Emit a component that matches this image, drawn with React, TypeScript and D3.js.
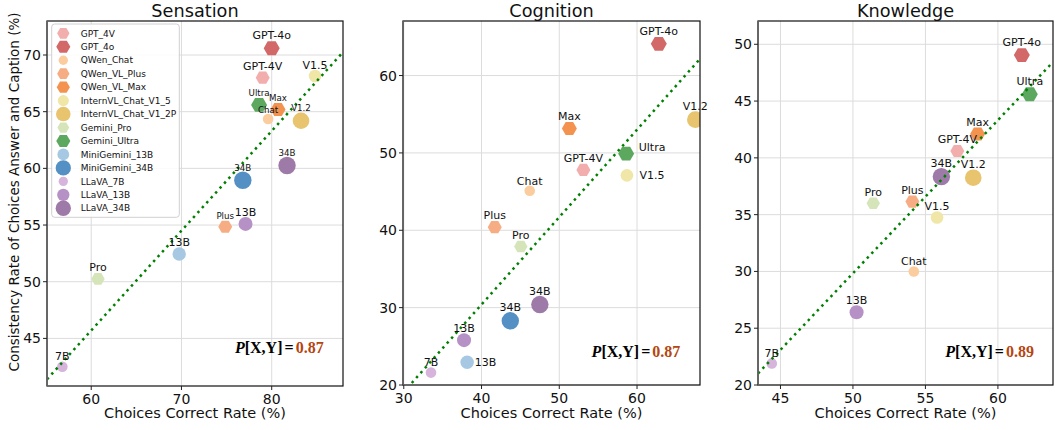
import * as d3 from "d3";

const models = [
  "GPT_4V",
  "GPT_4o",
  "QWen_Chat",
  "QWen_VL_Plus",
  "QWen_VL_Max",
  "InternVL_Chat_V1_5",
  "InternVL_Chat_V1_2P",
  "Gemini_Pro",
  "Gemini_Ultra",
  "MiniGemini_13B",
  "MiniGemini_34B",
  "LLaVA_7B",
  "LLaVA_13B",
  "LLaVA_34B",
];
const shortLabels = ["GPT-4V", "GPT-4o", "Chat", "Plus", "Max", "V1.5", "V1.2", "Pro", "Ultra", "13B", "34B", "7B", "13B", "34B"];

// x = choices correct rate, y = consistency rate (null = not evaluated)
const sensationX = [79.0, 80.0, 79.6, 74.85, 80.7, 84.8, 83.25, 60.75, 78.6, 69.75, 76.8, 56.8, 77.1, 81.7];
const sensationY = [68.0, 70.6, 64.35, 54.85, 65.2, 68.15, 64.2, 50.25, 65.6, 52.45, 58.95, 42.5, 55.1, 60.25];
const cognitionX = [53.1, 62.8, 46.2, 41.7, 51.3, 58.7, 67.5, 45.05, 58.6, 38.15, 43.7, 33.5, 37.75, 47.5];
const cognitionY = [47.8, 64.1, 45.1, 40.4, 53.15, 47.1, 54.3, 37.9, 49.9, 22.95, 28.3, 21.6, 25.8, 30.4];
const knowledgeX = [57.2, 61.65, 54.2, 54.1, 58.6, 55.8, 58.3, 51.4, 62.2, null, null, 44.4, 50.25, 56.1];
const knowledgeY = [40.6, 49.05, 30.0, 36.15, 42.1, 34.75, 38.25, 36.0, 45.6, null, null, 21.9, 26.4, 38.35];

const panelTitles = ["Sensation", "Cognition", "Knowledge"];
const fitSlopes = [0.88, 1.13, 1.348];
const fitIntercepts = [-7.1, -14.8, -37.56];
const pearsonValues = ["0.87", "0.87", "0.89"];

const sensationXTicks = [60, 70, 80];
const sensationYTicks = [45, 50, 55, 60, 65, 70];
const cognitionXTicks = [30, 40, 50, 60];
const cognitionYTicks = [20, 30, 40, 50, 60];
const knowledgeXTicks = [45, 50, 55, 60];
const knowledgeYTicks = [20, 25, 30, 35, 40, 45, 50];

// styling
const hexModels = new Set(["GPT_4V", "GPT_4o", "QWen_VL_Plus", "QWen_VL_Max", "Gemini_Pro", "Gemini_Ultra"]);
const modelColors: Record<string, string> = {
  GPT_4V: "#f2adad",
  GPT_4o: "#d26868",
  QWen_Chat: "#fbcd9e",
  QWen_VL_Plus: "#f6ad83",
  QWen_VL_Max: "#f3934f",
  InternVL_Chat_V1_5: "#f0e6a8",
  InternVL_Chat_V1_2P: "#e7c46d",
  Gemini_Pro: "#d5e4b9",
  Gemini_Ultra: "#5da85f",
  MiniGemini_13B: "#a6c8e2",
  MiniGemini_34B: "#5590c5",
  LLaVA_7B: "#d6b4dc",
  LLaVA_13B: "#b591c6",
  LLaVA_34B: "#9e7aa8",
};
const markerRadius: Record<string, number> = {
  GPT_4V: 7,
  GPT_4o: 8,
  QWen_Chat: 5.3,
  QWen_VL_Plus: 7,
  QWen_VL_Max: 7.5,
  InternVL_Chat_V1_5: 6.3,
  InternVL_Chat_V1_2P: 8.3,
  Gemini_Pro: 6.7,
  Gemini_Ultra: 8,
  MiniGemini_13B: 6.7,
  MiniGemini_34B: 8.7,
  LLaVA_7B: 5.3,
  LLaVA_13B: 7,
  LLaVA_34B: 8.7,
};

// labels in the Sensation panel that use a smaller font
const smallSensation = new Set(["Gemini_Ultra", "QWen_VL_Max", "QWen_Chat", "InternVL_Chat_V1_2P", "MiniGemini_34B", "LLaVA_34B", "QWen_VL_Plus"]);
// labels put on the right of their marker: [dx, dy] of baseline start
const rightLabels: Record<string, Record<string, [number, number]>> = {
  Cognition: {
    Gemini_Ultra: [12.6, -2.5],
    InternVL_Chat_V1_5: [12.6, 4],
    MiniGemini_13B: [7.6, 3.5],
  },
};

const panels = [
  { left: 47, right: 343, top: 21, bottom: 386, xDomain: [55.1, 87.9], yDomain: [40.8, 73.0], xs: sensationX, ys: sensationY, xTicks: sensationXTicks, yTicks: sensationYTicks, noteY: 353 },
  { left: 403, right: 700, top: 21, bottom: 385, xDomain: [29.9, 68.1], yDomain: [20, 67.05], xs: cognitionX, ys: cognitionY, xTicks: cognitionXTicks, yTicks: cognitionYTicks, noteY: 357 },
  { left: 758, right: 1053, top: 21, bottom: 385, xDomain: [43.45, 63.8], yDomain: [20, 52.05], xs: knowledgeX, ys: knowledgeY, xTicks: knowledgeXTicks, yTicks: knowledgeYTicks, noteY: 357 },
];

function hexPath(cx: number, cy: number, r: number) {
  const pts: [number, number][] = d3.range(6).map((k) => {
    const a = (k * Math.PI) / 3;
    return [cx + r * Math.cos(a), cy + r * Math.sin(a)];
  });
  return d3.line().curve(d3.curveLinearClosed)(pts) ?? "";
}

function Marker({ model, cx, cy, scale = 1 }: { model: string; cx: number; cy: number; scale?: number }) {
  const r = markerRadius[model] * scale;
  const fill = modelColors[model];
  if (hexModels.has(model)) {
    return <path d={hexPath(cx, cy, r)} fill={fill} />;
  }
  return <circle cx={cx} cy={cy} r={r} fill={fill} />;
}

function Legend() {
  const x0 = 51.7;
  const y0 = 24;
  const rowY = (i: number) => 33.3 + i * 13.46;
  return (
    <g>
      <rect x={x0} y={y0} width={127.6} height={193.3} rx={3} fill="white" fillOpacity={0.85} stroke="#d0d0d0" />
      {models.map((m, i) => (
        <g key={m}>
          <Marker model={m} cx={63.3} cy={rowY(i)} scale={0.88} />
          <text x={80.7} y={rowY(i) + 3.2} fontSize={9} fill="#111">
            {m}
          </text>
        </g>
      ))}
    </g>
  );
}

function Panel({ index }: { index: number }) {
  const p = panels[index];
  const title = panelTitles[index];
  const x = d3.scaleLinear().domain(p.xDomain).range([p.left, p.right]);
  const y = d3.scaleLinear().domain(p.yDomain).range([p.bottom, p.top]);
  const clipId = `clip-${index}`;

  const points = models
    .map((m, i) => ({ model: m, label: shortLabels[i], vx: p.xs[i], vy: p.ys[i] }))
    .filter((d) => d.vx !== null && d.vy !== null)
    .map((d) => ({ ...d, cx: x(d.vx as number), cy: y(d.vy as number) }));

  const fit = (v: number) => fitSlopes[index] * v + fitIntercepts[index];
  const fitLine = d3
    .line<number>()
    .x((v) => x(v))
    .y((v) => y(fit(v)))(p.xDomain);

  const noteX = p.left + 0.635 * (p.right - p.left);

  return (
    <g>
      <defs>
        <clipPath id={clipId}>
          <rect x={p.left} y={p.top} width={p.right - p.left} height={p.bottom - p.top} />
        </clipPath>
      </defs>
      {/* grid */}
      <g stroke="#dcdcdc" strokeWidth={1}>
        {p.xTicks.map((t) => (
          <line key={`gx${t}`} x1={x(t)} x2={x(t)} y1={p.top} y2={p.bottom} />
        ))}
        {p.yTicks.map((t) => (
          <line key={`gy${t}`} x1={p.left} x2={p.right} y1={y(t)} y2={y(t)} />
        ))}
      </g>
      <g clipPath={`url(#${clipId})`}>
        {points.map((d) => (
          <Marker key={d.model} model={d.model} cx={d.cx} cy={d.cy} />
        ))}
        <path d={fitLine ?? ""} fill="none" stroke="#008000" strokeWidth={2.5} strokeDasharray="2.5 4.1" />
      </g>
      {/* frame */}
      <rect x={p.left} y={p.top} width={p.right - p.left} height={p.bottom - p.top} fill="none" stroke="#111" strokeWidth={1.2} />
      <line x1={p.left} x2={p.left} y1={p.top} y2={p.bottom} stroke="#666" strokeWidth={1.8} />
      {/* ticks */}
      <g fontSize={14} fill="#111">
        {p.xTicks.map((t) => (
          <g key={`tx${t}`}>
            <line x1={x(t)} x2={x(t)} y1={p.bottom} y2={p.bottom + 4} stroke="#222" />
            <text x={x(t)} y={p.bottom + 18} textAnchor="middle">
              {t}
            </text>
          </g>
        ))}
        {p.yTicks.map((t) => (
          <g key={`ty${t}`}>
            <line x1={p.left - 4} x2={p.left} y1={y(t)} y2={y(t)} stroke="#222" />
            <text x={p.left - 6} y={y(t) + 5} textAnchor="end">
              {t}
            </text>
          </g>
        ))}
      </g>
      {index === 0 && <Legend />}
      {/* point labels */}
      <g fill="#111">
        {points.map((d) => {
          const r = markerRadius[d.model];
          const right = rightLabels[title]?.[d.model];
          const small = index === 0 && smallSensation.has(d.model);
          if (right) {
            return (
              <text key={`l${d.model}`} x={d.cx + right[0]} y={d.cy + right[1]} fontSize={11}>
                {d.label}
              </text>
            );
          }
          return (
            <text key={`l${d.model}`} x={d.cx} y={d.cy - r - 1} fontSize={small ? 8.7 : 11} textAnchor="middle">
              {d.label}
            </text>
          );
        })}
      </g>
      {/* correlation note */}
      <text x={noteX} y={p.noteY} fontFamily="'Liberation Serif', serif" fontWeight="bold" fontSize={16}>
        <tspan fontStyle="italic">P</tspan>
        <tspan>[X,Y]</tspan>
        <tspan dx={2}>=</tspan>
        <tspan dx={2} fill="#b5460f">
          {pearsonValues[index]}
        </tspan>
      </text>
      <text x={(p.left + p.right) / 2} y={16.5} fontSize={17.7} textAnchor="middle" fill="#111">
        {title}
      </text>
      <text x={(p.left + p.right) / 2} y={418} fontSize={14.5} textAnchor="middle" fill="#111">
        Choices Correct Rate (%)
      </text>
    </g>
  );
}

export default function App() {
  return (
    <svg
      width={1055}
      height={430}
      viewBox="0 0 1055 430"
      style={{ position: "absolute", left: 0, top: 0, background: "white" }}
      fontFamily="'DejaVu Sans', sans-serif"
    >
      <rect width={1055} height={430} fill="white" />
      {panels.map((_, i) => (
        <Panel key={i} index={i} />
      ))}
      <text transform={`translate(18.5, 192) rotate(-90)`} fontSize={13.5} textAnchor="middle" fill="#111">
        Consistency Rate of Choices Answer and Caption (%)
      </text>
    </svg>
  );
}
